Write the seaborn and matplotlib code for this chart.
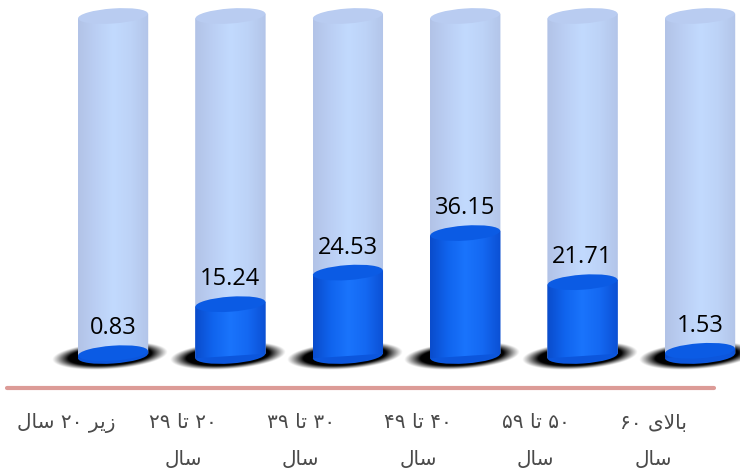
import numpy as np
import pandas as pd
import matplotlib
matplotlib.use("Agg")
import matplotlib.pyplot as plt
from matplotlib.patches import Ellipse, Polygon
from matplotlib.transforms import IdentityTransform
from matplotlib.colors import to_rgba
import seaborn as sns

# Age groups (Persian, logical order) and their shares in percent
age_groups = ["زیر ۲۰ سال", "۲۰ تا ۲۹\nسال", "۳۰ تا ۳۹\nسال",
              "۴۰ تا ۴۹\nسال", "۵۰ تا ۵۹\nسال", "بالای ۶۰\nسال"]
shares = [0.83, 15.24, 24.53, 36.15, 21.71, 1.53]
full_scale = 100

# ---- minimal Persian shaping (presentation forms + right-to-left order) ----
FORMS = {  # isolated, final, initial, medial
    "ا": ("\uFE8D", "\uFE8E", None, None),
    "ب": ("\uFE8F", "\uFE90", "\uFE91", "\uFE92"),
    "ت": ("\uFE95", "\uFE96", "\uFE97", "\uFE98"),
    "ر": ("\uFEAD", "\uFEAE", None, None),
    "ز": ("\uFEAF", "\uFEB0", None, None),
    "س": ("\uFEB1", "\uFEB2", "\uFEB3", "\uFEB4"),
    "ل": ("\uFEDD", "\uFEDE", "\uFEDF", "\uFEE0"),
    "ی": ("\uFEEF", "\uFEF0", "\uFEF3", "\uFEF4"),
}


def _joins_left(ch):
    return ch in FORMS and FORMS[ch][2] is not None


def shape_word(word):
    if not any(c in FORMS for c in word):
        return word  # digits keep left-to-right order
    units, i = [], 0
    while i < len(word):
        if word[i] == "ل" and i + 1 < len(word) and word[i + 1] == "ا":
            units.append("LA")
            i += 2
        else:
            units.append(word[i])
            i += 1
    out = []
    for k, u in enumerate(units):
        prev = units[k - 1] if k > 0 else None
        nxt = units[k + 1] if k + 1 < len(units) else None
        prev_joins = prev is not None and prev != "LA" and _joins_left(prev)
        if u == "LA":
            out.append("\uFEFC" if prev_joins else "\uFEFB")
            continue
        iso, fin, ini, med = FORMS[u]
        next_joins = ini is not None and nxt is not None and (nxt == "LA" or nxt in FORMS)
        if prev_joins and next_joins:
            out.append(med)
        elif prev_joins:
            out.append(fin)
        elif next_joins:
            out.append(ini)
        else:
            out.append(iso)
    return "".join(reversed(out))


def visual(line):
    return " ".join(shape_word(w) for w in reversed(line.split(" ")))


# ---- geometry ----
PX_X = 117.4   # pixels per category
PX_Y = 3.40    # pixels per percent
ELL_W_PX, ELL_H_PX = 70, 15
TILT = 4.0     # degrees, right side of the rims slightly higher
# vertical offset of a tilted rim's extreme left/right points
_a, _b, _t = ELL_W_PX / 2, ELL_H_PX / 2, np.radians(TILT)
RIM_DY = ((_a**2 - _b**2) * np.sin(_t) * np.cos(_t)
          / np.sqrt(_a**2 * np.cos(_t)**2 + _b**2 * np.sin(_t)**2)) / PX_Y


def hgrad(colors, stops, n=64):
    xs = np.linspace(0, 1, n)
    rgba = np.array([to_rgba(c) for c in colors])
    arr = np.stack([np.interp(xs, stops, rgba[:, j]) for j in range(4)], axis=-1)
    return arr[np.newaxis, :, :]


fig = plt.figure(figsize=(7.4, 4.7), dpi=100)
ax = fig.add_axes([0, 0, 1, 1])

df = pd.DataFrame({"group": age_groups, "share": shares,
                   "full": [full_scale] * len(shares)})

sns.barplot(data=df, x="group", y="full", color="#bdd2f6", width=0.6,
            saturation=1, errorbar=None, ax=ax, zorder=2)
sns.barplot(data=df, x="group", y="share", color="#1166ee", width=0.6,
            saturation=1, errorbar=None, ax=ax, zorder=4)

XLIM = (-113 / PX_X, (740 - 113) / PX_X)
YLIM = (-114 / PX_Y, 356 / PX_Y)
ax.set_xlim(*XLIM)
ax.set_ylim(*YLIM)
ax.axis("off")

n = len(shares)
back_bars = ax.patches[:n]
front_bars = ax.patches[n:2 * n]


def rim(cx, cy, color, z):
    px, py = ax.transData.transform((cx, cy))
    ax.add_patch(Ellipse((px, py), ELL_W_PX, ELL_H_PX, angle=TILT,
                         facecolor=color, edgecolor="none", zorder=z,
                         transform=IdentityTransform()))


def body(x0, w, h, grad, z):
    im = ax.imshow(grad, extent=(x0, x0 + w, -2, h + 2), aspect="auto",
                   zorder=z, interpolation="bilinear")
    clip = Polygon([(x0, -RIM_DY), (x0 + w, RIM_DY), (x0 + w, h + RIM_DY),
                    (x0, h - RIM_DY)], closed=True, transform=ax.transData,
                   facecolor="none", edgecolor="none")
    im.set_clip_path(clip)


light_grad = hgrad(["#b2c3e7", "#bbcff4", "#c2dafe", "#bdd3f7", "#b3c5e9"],
                   [0, 0.25, 0.5, 0.75, 1])
blue_grad = hgrad(["#0a4ccc", "#1064ee", "#1a74fc", "#1468f2", "#0b50d4"],
                  [0, 0.25, 0.5, 0.75, 1])

# soft black shadows under each cylinder
for p in back_bars:
    cx = p.get_x() + p.get_width() / 2
    xs = np.linspace(cx - 0.62, cx + 0.62, 220)
    ys = np.linspace(-7.0, 7.0, 100)
    X, Y = np.meshgrid(xs, ys)
    dx = (X - cx + 3 / PX_X) * PX_X
    dy = (Y - 0.1) * PX_Y
    u = dx * np.cos(_t) + dy * np.sin(_t)
    v = -dx * np.sin(_t) + dy * np.cos(_t)
    r = np.sqrt((u / 58) ** 2 + (v / 13.5) ** 2)
    alpha = np.clip((1.0 - r) / 0.28, 0, 1) ** 1.1
    img = np.zeros(X.shape + (4,))
    img[..., 3] = alpha
    ax.imshow(img, extent=(xs[0], xs[-1], ys[0], ys[-1]), origin="lower",
              aspect="auto", zorder=1, interpolation="bilinear")

# translucent full-scale cylinders
for p in back_bars:
    x0, w, h = p.get_x(), p.get_width(), p.get_height()
    p.set_alpha(0)
    body(x0, w, h, light_grad, 2.1)
    rim(x0 + w / 2, h, "#b9ccf1", 2.2)

# filled cylinders with value labels
for p, v in zip(front_bars, shares):
    x0, w, h = p.get_x(), p.get_width(), p.get_height()
    cx = x0 + w / 2
    p.set_alpha(0)
    rim(cx, 0, "#0c56dc", 4)
    body(x0, w, h, blue_grad, 4.1)
    rim(cx, h, "#0b5be4", 4.2)
    ax.text(cx, h + 19 / PX_Y, f"{v:.2f}", ha="center", va="baseline",
            fontsize=17, family="Open Sans", color="#000000", zorder=6)

# baseline rule
ax.plot([-106 / PX_X, 601 / PX_X], [-32 / PX_Y] * 2, color="#dc9b97",
        lw=3, solid_capstyle="round", zorder=5)

# category labels
for p, label in zip(front_bars, age_groups):
    cx = p.get_x() + p.get_width() / 2 - 47 / PX_X
    for k, line in enumerate(label.split("\n")):
        ax.text(cx, (-67 - 37 * k) / PX_Y, visual(line), ha="center",
                va="center", fontsize=14.5, family="DejaVu Sans",
                color="#4a4a4a", zorder=6)

ax.set_xlim(*XLIM)
ax.set_ylim(*YLIM)

fig.savefig("out.png", dpi=100)
